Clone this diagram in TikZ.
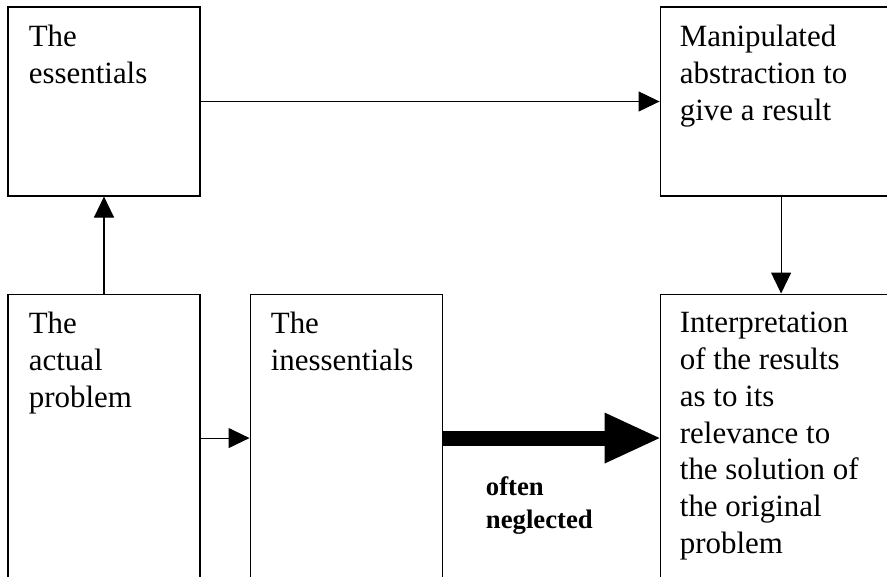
\documentclass[tikz,border=0pt]{standalone}
\usepackage{fontspec}
\setmainfont{Liberation Serif}
\usetikzlibrary{positioning}
\usetikzlibrary{arrows.meta}
\tikzstyle{block} = [rectangle, draw=black, line width=0.6pt, minimum width=3.84cm, minimum height=3.78cm, inner sep=0pt]
\tikzstyle{tall} = [minimum height=5.76cm]
\tikzstyle{wide} = [minimum width=4.84cm]
\tikzstyle{txt} = [anchor=north west, inner sep=0pt, align=left, font=\fontsize{17.6}{21}\selectfont]
\tikzstyle{note} = [anchor=north west, inner sep=0pt, align=left, font=\fontsize{15.2}{18.8}\selectfont\bfseries]
\tikzstyle{arrow} = [line width=0.6pt, -{Triangle[length=0.42cm, width=0.4cm]}]
\tikzstyle{bigarrow} = [line width=0.3cm, -{Triangle[length=1.1cm, width=1.02cm, line width=0pt]}]

\begin{document}
\begin{tikzpicture}
        \useasboundingbox (0,0) rectangle (17.74,-11.54);
        \clip (0,0) rectangle (17.74,-11.54);
        \node (ess) [block] at (2.08,-2.03) {};
        \node (actual) [block, tall, below=1.94cm of ess] {};
        \node (iness) [block, tall, right=0.98cm of actual] {};
        \node (interp) [block, tall, wide, right=4.34cm of iness] {};
        \node (manip) [block, wide, above=1.94cm of interp] {};
        \node (esstxt) [txt] at ([shift={(0.42,-0.36)}]ess.north west) {The\\essentials};
        \node (maniptxt) [txt] at ([shift={(0.4,-0.36)}]manip.north west) {Manipulated\\abstraction to\\give a result};
        \node (actualtxt) [txt] at ([shift={(0.42,-0.36)}]actual.north west) {The\\actual\\problem};
        \node (inesstxt) [txt] at ([shift={(0.42,-0.36)}]iness.north west) {The\\inessentials};
        \node (interptxt) [txt] at ([shift={(0.4,-0.36)}]interp.north west) {Interpretation\\of the results\\as to its\\relevance to\\the solution of\\the original\\problem};
        \node (neglect) [note] at ([shift={(0.86,-0.76)}]iness.east) {often\\neglected};
        \draw [arrow] (actual) -- (ess);
        \draw [arrow] (ess) -- (manip);
        \draw [arrow] (manip) -- (interp);
        \draw [arrow] (actual) -- (iness);
        \draw [bigarrow] (iness) -- (interp);
\end{tikzpicture}
\end{document}
